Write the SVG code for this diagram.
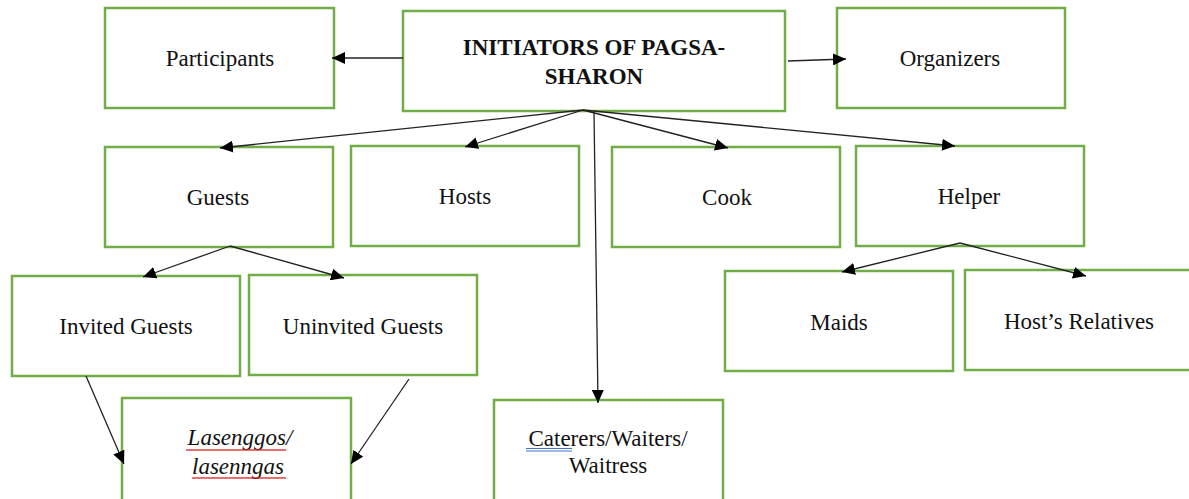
<svg xmlns="http://www.w3.org/2000/svg" width="1189" height="499" viewBox="0 0 1189 499">
<defs>
<marker id="ah" markerWidth="13" markerHeight="12" refX="13" refY="6" orient="auto" markerUnits="userSpaceOnUse" viewBox="0 0 13 12">
<path d="M0,0 L13,6 L0,12 z" fill="#000"/>
</marker>
<pattern id="wave" width="4" height="4" patternUnits="userSpaceOnUse"><path d="M0,3 L1,1 L2,3 L3,1 L4,3" stroke="#e02020" stroke-width="0.8" fill="none"/></pattern>
</defs>
<rect width="1189" height="499" fill="#fff"/>
<g fill="#fff" stroke="#70ad47" stroke-width="2.5">
<g id="participants"><rect x="105" y="8" width="229" height="100"/><text stroke="none" fill="#111" font-family="Liberation Serif" font-size="23" text-anchor="middle" x="220" y="66">Participants</text></g>
<g id="initiators"><rect x="403" y="11" width="382" height="100"/><text stroke="none" fill="#111" font-family="Liberation Serif" font-size="23" font-weight="bold" text-anchor="middle" x="594" y="55">INITIATORS OF PAGSA-</text><text stroke="none" fill="#111" font-family="Liberation Serif" font-size="23" font-weight="bold" text-anchor="middle" x="594" y="84">SHARON</text></g>
<g id="organizers"><rect x="837" y="8" width="228" height="100"/><text stroke="none" fill="#111" font-family="Liberation Serif" font-size="23" text-anchor="middle" x="950" y="66">Organizers</text></g>
<g id="guests"><rect x="105" y="147" width="228" height="100"/><text stroke="none" fill="#111" font-family="Liberation Serif" font-size="23" text-anchor="middle" x="218" y="205">Guests</text></g>
<g id="hosts"><rect x="351" y="146" width="228" height="100"/><text stroke="none" fill="#111" font-family="Liberation Serif" font-size="23" text-anchor="middle" x="465" y="204">Hosts</text></g>
<g id="cook"><rect x="612" y="147" width="228" height="100"/><text stroke="none" fill="#111" font-family="Liberation Serif" font-size="23" text-anchor="middle" x="727" y="205">Cook</text></g>
<g id="helper"><rect x="856" y="146" width="228" height="100"/><text stroke="none" fill="#111" font-family="Liberation Serif" font-size="23" text-anchor="middle" x="969" y="204">Helper</text></g>
<g id="invited"><rect x="12" y="276" width="228" height="100"/><text stroke="none" fill="#111" font-family="Liberation Serif" font-size="23" text-anchor="middle" x="126" y="334">Invited Guests</text></g>
<g id="uninvited"><rect x="249" y="275" width="228" height="100"/><text stroke="none" fill="#111" font-family="Liberation Serif" font-size="23" text-anchor="middle" x="363" y="334">Uninvited Guests</text></g>
<g id="maids"><rect x="725" y="271" width="228" height="100"/><text stroke="none" fill="#111" font-family="Liberation Serif" font-size="23" text-anchor="middle" x="839" y="330">Maids</text></g>
<g id="relatives"><rect x="965" y="270" width="232" height="100"/><text stroke="none" fill="#111" font-family="Liberation Serif" font-size="23" text-anchor="middle" x="1079" y="329">Host’s Relatives</text></g>
<g id="lasenggos"><rect x="122" y="398" width="229" height="104"/>
<text stroke="none" fill="#111" font-family="Liberation Serif" font-size="23" font-style="italic" text-anchor="middle" x="240" y="445">Lasenggos/</text><text stroke="none" fill="#111" font-family="Liberation Serif" font-size="23" font-style="italic" text-anchor="middle" x="238" y="474">lasenngas</text>
<rect stroke="none" x="186" y="447" width="100" height="4" fill="url(#wave)"/>
<rect stroke="none" x="192" y="476" width="94" height="4" fill="url(#wave)"/>
</g>
<g id="caterers"><rect x="494" y="400" width="229" height="104"/>
<text stroke="none" fill="#111" font-family="Liberation Serif" font-size="23" text-anchor="middle" x="608" y="446">Caterers/Waiters/</text><text stroke="none" fill="#111" font-family="Liberation Serif" font-size="23" text-anchor="middle" x="608" y="473">Waitress</text>
<path d="M526,448.5 H572 M526,451 H572" stroke="#4472c4" stroke-width="1" fill="none"/>
</g>
</g>
<g id="connectors" stroke="#222" stroke-width="1.3" fill="none">
<line x1="403" y1="58" x2="332" y2="58" marker-end="url(#ah)"/>
<line x1="788" y1="61" x2="846" y2="59" marker-end="url(#ah)"/>
<line x1="583" y1="110" x2="220" y2="148" marker-end="url(#ah)"/>
<line x1="583" y1="110" x2="465" y2="147" marker-end="url(#ah)"/>
<line x1="583" y1="110" x2="728" y2="148" marker-end="url(#ah)"/>
<line x1="583" y1="110" x2="955" y2="146" marker-end="url(#ah)"/>
<line x1="594" y1="112" x2="598" y2="403" marker-end="url(#ah)"/>
<line x1="230" y1="246" x2="143" y2="277" marker-end="url(#ah)"/>
<line x1="230" y1="246" x2="344" y2="278" marker-end="url(#ah)"/>
<line x1="960" y1="243" x2="842" y2="272" marker-end="url(#ah)"/>
<line x1="960" y1="243" x2="1086" y2="276" marker-end="url(#ah)"/>
<line x1="86" y1="376" x2="124" y2="464" marker-end="url(#ah)"/>
<line x1="409" y1="379" x2="351" y2="464" marker-end="url(#ah)"/>
</g>
</svg>
